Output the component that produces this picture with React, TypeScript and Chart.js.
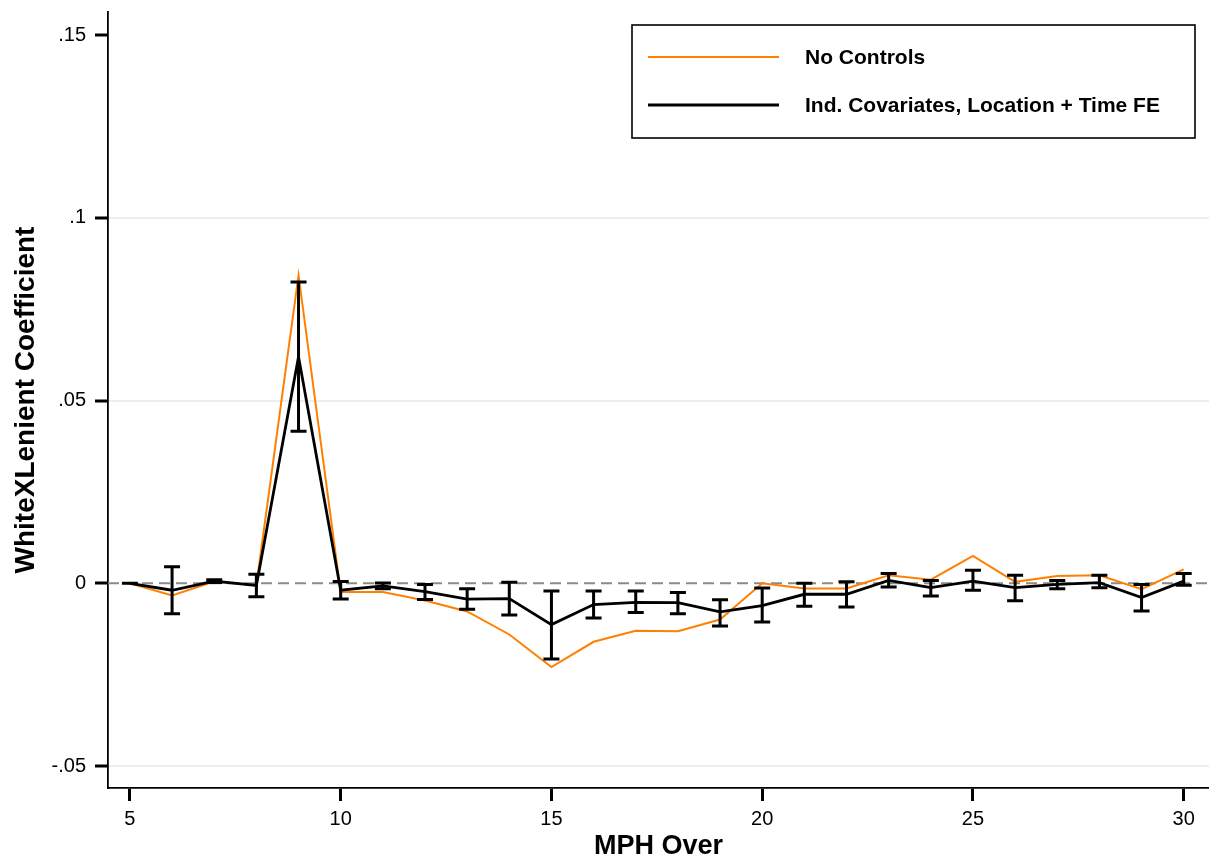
import React, { useEffect, useRef } from "react";
import { Chart, registerables } from "chart.js";

Chart.register(...registerables);

const mphOver = [5, 6, 7, 8, 9, 10, 11, 12, 13, 14, 15, 16, 17, 18, 19, 20, 21, 22, 23, 24, 25, 26, 27, 28, 29, 30];

const noControls = [
  0, -0.0033, 0.0005, -0.0005, 0.0843, -0.0024, -0.0024, -0.0047, -0.0077, -0.014,
  -0.0229, -0.016, -0.013, -0.0131, -0.0099, 0.0, -0.0014, -0.0014, 0.0022, 0.001,
  0.0075, 0.0004, 0.002, 0.0022, -0.0016, 0.0038,
];

const withControls = [
  0, -0.0019, 0.0006, -0.0006, 0.062, -0.0019, -0.0007, -0.0023, -0.0043, -0.0042,
  -0.0113, -0.0058, -0.0052, -0.0053, -0.0078, -0.0061, -0.003, -0.003, 0.0008, -0.0012,
  0.0006, -0.0012, -0.0003, 0.0002, -0.0039, 0.0006,
];

const ciLow = [
  0, -0.0083, 0.0002, -0.0037, 0.0416, -0.0043, -0.0015, -0.0044, -0.0071, -0.0087,
  -0.0207, -0.0095, -0.008, -0.0083, -0.0117, -0.0106, -0.0063, -0.0065, -0.001, -0.0035,
  -0.0019, -0.0048, -0.0015, -0.0012, -0.0076, -0.0005,
];

const ciHigh = [
  0, 0.0045, 0.001, 0.0025, 0.0824, 0.0005, 0.0001, -0.0003, -0.0015, 0.0003,
  -0.0021, -0.0021, -0.0021, -0.0025, -0.0045, -0.0013, 0.0, 0.0004, 0.0027, 0.0008,
  0.0036, 0.0022, 0.0008, 0.0022, -0.0003, 0.0027,
];

const xTickValues = [5, 10, 15, 20, 25, 30];
const yTickValues = [-0.05, 0, 0.05, 0.1, 0.15];
const yTickLabels = ["-.05", "0", ".05", ".1", ".15"];

const seriesLabels = ["No Controls", "Ind. Covariates, Location + Time FE"];
const xTitle = "MPH Over";
const yTitle = "WhiteXLenient Coefficient";

const FONT = "'Liberation Sans', Arial, Helvetica, sans-serif";
const ORANGE = "#ff8000";
const BLACK = "#000000";

export default function App() {
  const canvasRef = useRef<HTMLCanvasElement | null>(null);

  useEffect(() => {
    const canvas = canvasRef.current;
    if (!canvas) return;

    const overlay = {
      id: "overlay",
      beforeDatasetsDraw(chart: any) {
        const { ctx, chartArea, scales } = chart;
        const y0 = scales.y.getPixelForValue(0);
        ctx.save();
        ctx.strokeStyle = "#8a8a8a";
        ctx.lineWidth = 2;
        ctx.setLineDash([11, 6]);
        ctx.beginPath();
        ctx.moveTo(chartArea.left, y0);
        ctx.lineTo(chartArea.right, y0);
        ctx.stroke();
        ctx.restore();
      },
      afterDatasetsDraw(chart: any) {
        const { ctx, scales } = chart;
        ctx.save();
        ctx.strokeStyle = BLACK;
        ctx.lineWidth = 3;
        const cap = 8;
        mphOver.forEach((x, i) => {
          const px = scales.x.getPixelForValue(x);
          const lo = scales.y.getPixelForValue(ciLow[i]);
          const hi = scales.y.getPixelForValue(ciHigh[i]);
          ctx.beginPath();
          ctx.moveTo(px, lo);
          ctx.lineTo(px, hi);
          ctx.moveTo(px - cap, lo);
          ctx.lineTo(px + cap, lo);
          ctx.moveTo(px - cap, hi);
          ctx.lineTo(px + cap, hi);
          ctx.stroke();
        });
        ctx.restore();
      },
      afterDraw(chart: any) {
        const { ctx } = chart;
        ctx.save();
        ctx.fillStyle = "#ffffff";
        ctx.fillRect(632, 25, 563, 113);
        ctx.strokeStyle = BLACK;
        ctx.lineWidth = 1.6;
        ctx.strokeRect(632, 25, 563, 113);
        const rows = [
          { y: 57, color: ORANGE, width: 2 },
          { y: 105, color: BLACK, width: 2.8 },
        ];
        rows.forEach((r, i) => {
          ctx.strokeStyle = r.color;
          ctx.lineWidth = r.width;
          ctx.beginPath();
          ctx.moveTo(648, r.y);
          ctx.lineTo(779, r.y);
          ctx.stroke();
          ctx.fillStyle = BLACK;
          ctx.font = `bold 21px ${FONT}`;
          ctx.textAlign = "left";
          ctx.textBaseline = "middle";
          ctx.fillText(seriesLabels[i], 805, r.y + 1);
        });
        ctx.restore();
      },
    };

    const chart = new Chart(canvas, {
      type: "line",
      data: {
        datasets: [
          {
            label: seriesLabels[0],
            data: mphOver.map((x, i) => ({ x, y: noControls[i] })),
            borderColor: ORANGE,
            borderWidth: 2,
            pointRadius: 0,
            tension: 0,
            fill: false,
            order: 2,
          },
          {
            label: seriesLabels[1],
            data: mphOver.map((x, i) => ({ x, y: withControls[i] })),
            borderColor: BLACK,
            borderWidth: 2.8,
            pointRadius: 0,
            tension: 0,
            fill: false,
            order: 1,
          },
        ],
      },
      options: {
        animation: false,
        responsive: false,
        maintainAspectRatio: false,
        layout: { padding: { top: 12, right: 0, left: 0, bottom: 0 } },
        plugins: {
          legend: { display: false },
          tooltip: { enabled: false },
        },
        scales: {
          x: {
            type: "linear",
            min: 4.48,
            max: 30.6,
            afterBuildTicks: (scale: any) => {
              scale.ticks = xTickValues.map((v) => ({ value: v }));
            },
            afterFit: (scale: any) => {
              scale.height = 72;
              scale.paddingLeft = 0;
              scale.paddingRight = 0;
            },
            grid: {
              drawOnChartArea: false,
              drawTicks: true,
              tickLength: 13,
              tickColor: BLACK,
              tickWidth: 3,
            },
            border: { display: true, color: BLACK, width: 1.8 },
            ticks: {
              color: BLACK,
              padding: 6,
              maxRotation: 0,
              font: { family: FONT, size: 20 },
              callback: (v: any) => String(v),
            },
            title: {
              display: true,
              text: xTitle,
              color: BLACK,
              font: { family: FONT, size: 27, weight: "bold", lineHeight: 1.0 },
              padding: { top: 0, bottom: 0 },
            },
          },
          y: {
            type: "linear",
            min: -0.056,
            max: 0.1563,
            afterBuildTicks: (scale: any) => {
              scale.ticks = yTickValues.map((v) => ({ value: v }));
            },
            afterFit: (scale: any) => {
              scale.width = 108;
              scale.paddingTop = 0;
              scale.paddingBottom = 0;
            },
            grid: {
              drawOnChartArea: true,
              drawTicks: true,
              tickLength: 13,
              tickColor: BLACK,
              tickWidth: 3,
              lineWidth: 2,
              color: (ctx: any) => {
                const v = ctx.tick ? ctx.tick.value : null;
                if (v === 0 || v === 0.15) return "rgba(0,0,0,0)";
                return "#e8eff1";
              },
            },
            border: { display: true, color: BLACK, width: 1.8 },
            ticks: {
              color: BLACK,
              padding: 9,
              font: { family: FONT, size: 20 },
              callback: (v: any) => {
                const idx = yTickValues.findIndex((t) => Math.abs(t - v) < 1e-9);
                return idx >= 0 ? yTickLabels[idx] : "";
              },
            },
            title: {
              display: true,
              text: yTitle,
              color: BLACK,
              font: { family: FONT, size: 28, weight: "bold", lineHeight: 1.2 },
              padding: { top: 9, bottom: 0 },
            },
          },
        },
      },
      plugins: [overlay],
    } as any);

    return () => {
      chart.destroy();
    };
  }, []);

  return (
    <div style={{ position: "fixed", left: 0, top: 0, width: 1209, height: 860, background: "#ffffff" }}>
      <canvas ref={canvasRef} width={1209} height={860} style={{ display: "block", width: 1209, height: 860 }} />
    </div>
  );
}
